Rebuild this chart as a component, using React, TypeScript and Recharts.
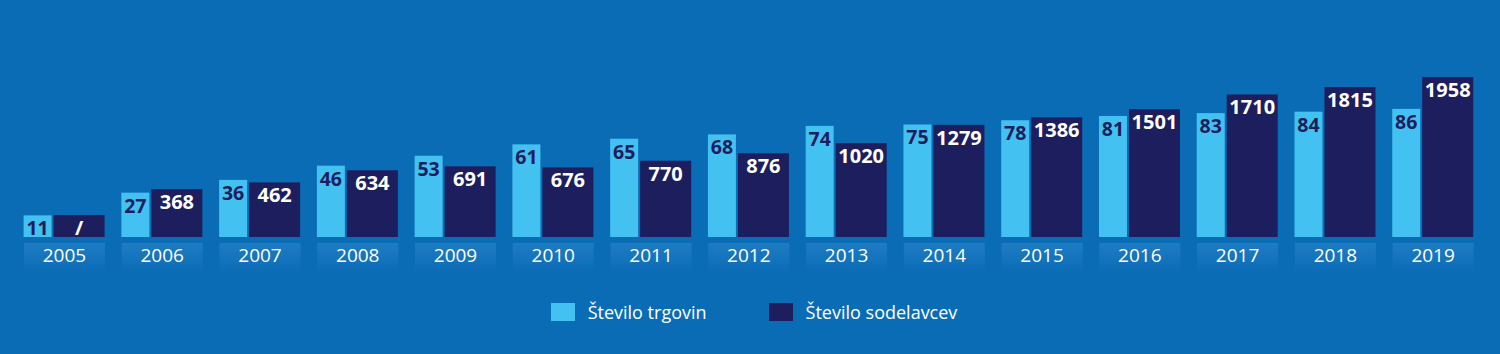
import React from 'react';
import { BarChart, Bar, XAxis, YAxis, Legend } from 'recharts';

// ---- data ----
const years = ['2005', '2006', '2007', '2008', '2009', '2010', '2011', '2012', '2013', '2014', '2015', '2016', '2017', '2018', '2019'];
const stores = [11, 27, 36, 46, 53, 61, 65, 68, 74, 75, 78, 81, 83, 84, 86];
const workers: (number | null)[] = [null, 368, 462, 634, 691, 676, 770, 876, 1020, 1279, 1386, 1501, 1710, 1815, 1958];
const seriesNames = ['Število trgovin', 'Število sodelavcev'];
const missingLabel = '/';

// ---- axis configuration (hidden value axes, one per series) ----
const STORES_DOMAIN: [number, number] = [-4.23, 136.6];
const WORKERS_DOMAIN: [number, number] = [-312, 2525];

const LIGHT = '#43c1f1';
const NAVY = '#1c1e5d';
const BG = '#0b6cb6';
const FONT = '"Open Sans", "DejaVu Sans", sans-serif';

const storeLabels = stores.map((v) => String(v));
const workerLabels = workers.map((v) => (v == null ? missingLabel : String(v)));

const data = years.map((year, i) => ({ year, stores: stores[i], workers: workers[i] }));

const makeShape = (texts: string[], textColor: string, fontSize: number) => (props: any) => {
  const { x, y, width, height, index, fill } = props;
  return (
    <g>
      <rect x={x} y={y} width={width} height={height} fill={fill} />
      <text
        x={x + width / 2}
        y={y + 20}
        textAnchor="middle"
        fill={textColor}
        fontSize={fontSize}
        fontWeight={700}
        fontFamily={FONT}
      >
        {texts[index]}
      </text>
    </g>
  );
};

const YearTick = (props: any) => {
  const { x, y, payload } = props;
  return (
    <g>
      <rect x={x - 40.5} y={y + 6} width={81} height={29} fill="url(#yearBand)" />
      <text x={x} y={y + 25} textAnchor="middle" fill="#ffffff" fontSize={19} fontFamily={FONT}>
        {payload.value}
      </text>
    </g>
  );
};

const renderLegend = (props: any) => {
  const payload = [...(props.payload || [])].sort(
    (a: any, b: any) => seriesNames.indexOf(a.value) - seriesNames.indexOf(b.value)
  );
  return (
    <div
      style={{
        display: 'flex',
        justifyContent: 'center',
        alignItems: 'center',
        fontFamily: FONT,
        fontSize: 18,
        color: '#ffffff',
        paddingLeft: 8,
        lineHeight: '24px',
      }}
    >
      {payload.map((p: any, i: number) => (
        <div key={i} style={{ display: 'flex', alignItems: 'center', marginLeft: i ? 62 : 0 }}>
          <span style={{ display: 'inline-block', width: 24, height: 18, background: p.color, marginRight: 13 }} />
          <span>{p.value}</span>
        </div>
      ))}
    </div>
  );
};

export default function App() {
  return (
    <div style={{ position: 'absolute', left: 0, top: 0, width: 1500, height: 354, background: BG }}>
      <BarChart
        width={1500}
        height={354}
        data={data}
        margin={{ top: 37, right: 18, bottom: 81, left: 15.6 }}
        barGap={2}
      >
        <defs>
          <linearGradient id="yearBand" x1="0" y1="0" x2="0" y2="1">
            <stop offset="0%" stopColor="#5fb4ee" stopOpacity={0.22} />
            <stop offset="100%" stopColor="#5fb4ee" stopOpacity={0} />
          </linearGradient>
        </defs>
        <XAxis
          dataKey="year"
          axisLine={false}
          tickLine={false}
          tickSize={0}
          tickMargin={0}
          height={36}
          interval={0}
          tick={<YearTick />}
        />
        <YAxis yAxisId="stores" hide type="number" domain={STORES_DOMAIN} allowDataOverflow />
        <YAxis yAxisId="workers" hide type="number" domain={WORKERS_DOMAIN} allowDataOverflow />
        <Bar
          yAxisId="stores"
          name={seriesNames[0]}
          dataKey={(d: any) => [STORES_DOMAIN[0], d.stores]}
          fill={LIGHT}
          barSize={28}
          isAnimationActive={false}
          shape={makeShape(storeLabels, NAVY, 19.5)}
        />
        <Bar
          yAxisId="workers"
          name={seriesNames[1]}
          dataKey={(d: any) => [WORKERS_DOMAIN[0], d.workers ?? 0]}
          fill={NAVY}
          barSize={51}
          isAnimationActive={false}
          shape={makeShape(workerLabels, '#ffffff', 20)}
        />
        <Legend
          verticalAlign="middle"
          align="center"
          layout="horizontal"
          itemSorter={null as any}
          wrapperStyle={{ top: 300, left: 0, width: 1500 }}
          content={renderLegend}
        />
      </BarChart>
    </div>
  );
}
